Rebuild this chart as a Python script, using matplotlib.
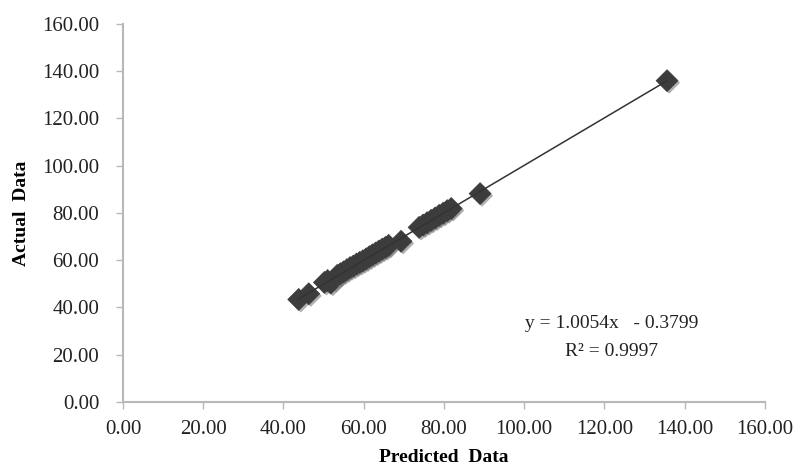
import numpy as np
import matplotlib
matplotlib.use("Agg")
import matplotlib.pyplot as plt
import matplotlib.patheffects as pe

# values
predicted = [43.8, 46.3, 50.2, 51.0, 51.8, 52.6, 53.4, 54.2, 55.0, 55.8, 56.6,
             57.4, 58.2, 59.0, 59.8, 60.6, 61.4, 62.2, 63.0, 63.8, 64.6, 65.4,
             66.2, 69.3, 73.8, 74.8, 75.8, 76.8, 77.8, 78.8, 79.8, 80.8, 81.8,
             89.0, 135.6]
actual = [43.4, 45.8, 50.6, 51.4, 50.3, 51.8, 53.6, 54.3, 55.1, 56.0, 56.9,
          57.5, 58.4, 59.1, 59.8, 60.6, 61.5, 62.3, 63.1, 63.9, 64.7, 65.4,
          66.3, 68.0, 73.9, 74.9, 75.9, 76.9, 77.9, 79.0, 79.9, 81.0, 81.9,
          88.2, 136.0]
slope, intercept = 1.0054, -0.3799
r2 = 0.9997
ticks = [0, 20, 40, 60, 80, 100, 120, 140, 160]

plt.rcParams['font.family'] = ['Liberation Serif', 'DejaVu Serif']

W, H = 797, 470
fig = plt.figure(figsize=(W / 100, H / 100), dpi=100)
ax = fig.add_axes([0.1543, 0.1447, 0.8055, 0.8043])

x = np.array(predicted)
y = np.array(actual)
ax.scatter(x, y, marker='D', s=125, color='#3c3c3c', edgecolors='#3c3c3c',
           linewidths=0.5, zorder=3,
           path_effects=[pe.withSimplePatchShadow(offset=(1.5, -1.5),
                                                  shadow_rgbFace='#7a7a7a', alpha=0.6)])

xl = np.array([x.min(), x.max()])
ax.plot(xl, slope * xl + intercept, color='#333333', lw=1.1, zorder=4)

ax.set_xlim(0, 160)
ax.set_ylim(0, 160)
ax.set_xticks(ticks)
ax.set_yticks(ticks)
ax.set_xticklabels([f"{t:.2f}" for t in ticks])
ax.set_yticklabels([f"{t:.2f}" for t in ticks])
for s in ['top', 'right']:
    ax.spines[s].set_visible(False)
for s in ['left', 'bottom']:
    ax.spines[s].set_color('#b8b8b8')
    ax.spines[s].set_linewidth(1.5)
ax.tick_params(direction='out', length=5, width=1, color='#b8b8b8',
               labelsize=15, labelcolor='#222222')
ax.tick_params(axis='y', pad=12)
ax.tick_params(axis='x', pad=8)

ax.set_xlabel('Predicted  Data', fontsize=14, fontweight='bold', labelpad=7)
ax.set_ylabel('Actual  Data', fontsize=14, fontweight='bold', labelpad=9)

fig.text(612 / W, 1 - 323 / H, f"y = {slope:.4f}x   - {abs(intercept):.4f}",
         fontsize=14, ha='center', va='center', color='#222222')
fig.text(612 / W, 1 - 352 / H, f"R² = {r2:.4f}", fontsize=14,
         ha='center', va='center', color='#222222')

fig.savefig('out.png', dpi=100)
